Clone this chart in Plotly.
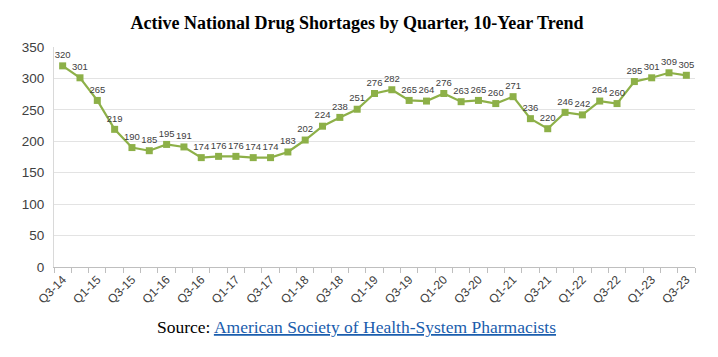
import plotly.graph_objects as go

quarters = ["Q3-14","Q4-14","Q1-15","Q2-15","Q3-15","Q4-15","Q1-16","Q2-16","Q3-16","Q4-16",
            "Q1-17","Q2-17","Q3-17","Q4-17","Q1-18","Q2-18","Q3-18","Q4-18","Q1-19","Q2-19",
            "Q3-19","Q4-19","Q1-20","Q2-20","Q3-20","Q4-20","Q1-21","Q2-21","Q3-21","Q4-21",
            "Q1-22","Q2-22","Q3-22","Q4-22","Q1-23","Q2-23","Q3-23"]
shortages = [320,301,265,219,190,185,195,191,174,176,176,174,174,183,202,224,238,251,276,282,
             265,264,276,263,265,260,271,236,220,246,242,264,260,295,301,309,305]
y_ticks = [0,50,100,150,200,250,300,350]

xs = list(range(len(quarters)))
fig = go.Figure()
fig.add_trace(go.Scatter(
    x=xs, y=shortages, mode="lines+markers+text",
    line=dict(color="#8DB048", width=2.2),
    marker=dict(symbol="square", size=7, color="#8DB048"),
    text=[str(v) for v in shortages], textposition="top center",
    textfont=dict(family="Liberation Sans, Arial", size=9.5, color="#404040"),
    cliponaxis=False, hoverinfo="x+y"))

# page body has an 8px margin, so the figure is sized/offset to fit the 718x357 window
fig.update_layout(
    width=710, height=349, margin=dict(l=46, r=23, t=39, b=90, autoexpand=False),
    paper_bgcolor="white", plot_bgcolor="white", showlegend=False,
    title=dict(text="<b>Active National Drug Shortages by Quarter, 10-Year Trend</b>",
               x=0.4915, xanchor="center", y=0.957, yanchor="middle", yref="container",
               automargin=False,
               font=dict(family="Liberation Serif, Times New Roman", size=18, color="black")),
    xaxis=dict(range=[-0.5, len(quarters)-0.5], tickvals=xs[::2], ticktext=quarters[::2],
               tickangle=-45, ticks="", showgrid=False, zeroline=False, automargin=False,
               showline=True, linecolor="#BFBFBF", linewidth=1,
               tickfont=dict(family="Liberation Sans, Arial", size=12, color="#404040"),
               minor=dict(tickvals=[i-0.5 for i in range(len(quarters)+1)], ticks="outside",
                          ticklen=5, tickcolor="#BFBFBF", showgrid=False)),
    yaxis=dict(range=[0, 350], tickvals=y_ticks, showgrid=True, gridcolor="#E3E3E3",
               zeroline=False, showline=True, linecolor="#D9D9D9", ticks="", automargin=False,
               ticklabelstandoff=6,
               tickfont=dict(family="Liberation Sans, Arial", size=13.5, color="#404040")),
    annotations=[dict(
        text="Source: <a href='https://www.ashp.org' style='color:#1A5DAD;text-decoration:underline'>American Society of Health-System Pharmacists</a>",
        xref="paper", yref="paper", x=0.472, y=-0.273, xanchor="center", yanchor="middle",
        showarrow=False, font=dict(family="Liberation Serif, Times New Roman", size=17.5, color="black"))]
)
fig.write_html("out.html")
